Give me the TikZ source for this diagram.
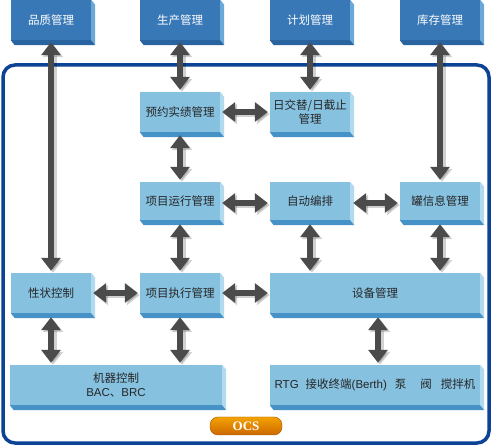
\documentclass[tikz,border=0pt]{standalone}
\usepackage{fontspec}
\setmainfont{Liberation Sans}
\newfontfamily\cjk{Noto Sans CJK SC}
\newfontfamily\ocsfont{Liberation Serif}
\usetikzlibrary{arrows.meta,calc}
\definecolor{topfront}{HTML}{3878B6}
\definecolor{topside}{HTML}{6AA8D8}
\definecolor{topbot}{HTML}{2A64A0}
\definecolor{midfront}{HTML}{86C1E0}
\definecolor{midside}{HTML}{B2DAEE}
\definecolor{midbot}{HTML}{4692C6}
\definecolor{framecol}{HTML}{0C4394}
\definecolor{arrgray}{HTML}{4B4B4B}
\definecolor{ocsorange}{HTML}{F07A00}
\newcommand\faces[2]{%
  \fill[#2side] (#1.north east) -- ++(4,5) -- ($(#1.south east)+(4,5)$) -- (#1.south east) -- cycle;
  \fill[#2bot] (#1.south west) -- (#1.south east) -- ++(4,5) -- ($(#1.south west)+(4,5)$) -- cycle;}
\newcommand\darrow[2]{%
  \draw[arrshadow] #1 -- #2;
  \draw[dar] #1 -- #2;}
\begin{document}
\begin{tikzpicture}[x=1pt,y=-1pt,
  box/.style={inner sep=0pt, minimum height=40pt, minimum width=80pt, align=center,
    font=\cjk\fontsize{11.5}{14}\selectfont},
  topbox/.style={box, fill=topfront, text=white},
  midbox/.style={box, fill=midfront, text=black!85},
  topside/.style={fill=topside}, topbot/.style={fill=topbot},
  midside/.style={fill=midside}, midbot/.style={fill=midbot},
  dar/.style={line width=6.5pt, draw=arrgray,
    {Triangle[width=19pt,length=13pt]}-{Triangle[width=19pt,length=13pt]}},
  arrshadow/.style={line width=7pt, draw=black, opacity=0.18,
    {Triangle[width=20pt,length=13pt]}-{Triangle[width=20pt,length=13pt]},
    transform canvas={shift={(2pt,-2pt)}}},
  frame/.style={draw=framecol, line width=3.5pt, rounded corners=12pt},
  ocs/.style={inner sep=0pt, minimum width=72pt, minimum height=18pt, rounded corners=8pt,
    top color=ocsorange!70!yellow, bottom color=ocsorange!85!black, draw=ocsorange!70!black,
    text=white, font=\ocsfont\bfseries\fontsize{13}{14}\selectfont}]
\useasboundingbox (0,0) rectangle (493,446);
\fill[white] (0,0) rectangle (493,446);

% OCS frame
\draw[frame] (3,65) rectangle (489,443);

% top boxes
\node[topbox] (qm) at (51,20) {品质管理};
\node[topbox] (sc) at (180,20) {生产管理};
\node[topbox] (jh) at (310,20) {计划管理};
\node[topbox] (kc) at (440,20) {库存管理};
\foreach \n in {qm,sc,jh,kc} {\faces{\n}{top}}

% middle boxes
\node[midbox] (yy) at (180,112) {预约实绩管理};
\node[midbox] (rj) at (310,112) {日交替/日截止\\管理};
\node[midbox, minimum height=38pt] (yx) at (180,201) {项目运行管理};
\node[midbox, minimum height=38pt] (zd) at (310,201) {自动编排};
\node[midbox, minimum height=38pt] (gx) at (440,201) {罐信息管理};
\node[midbox] (xz) at (51,293) {性状控制};
\node[midbox] (zx) at (180,293) {项目执行管理};
\node[midbox, minimum width=210pt] (sb) at (375,293) {设备管理};
\node[midbox, minimum width=212pt] (jq) at (116,385) {机器控制\\{\fontspec{Liberation Sans}BAC}、{\fontspec{Liberation Sans}BRC}};
\node[midbox, minimum width=210pt, font=\fontsize{11.5}{14}\selectfont] (rtg) at (375,385)
  {RTG\hspace{7pt}{\cjk 接收终端}(Berth)\hspace{8pt}{\cjk 泵}\hspace{14pt}{\cjk 阀}\hspace{9pt}{\cjk 搅拌机}};
\foreach \n in {yy,rj,yx,zd,gx,xz,zx,sb,jq,rtg} {\faces{\n}{mid}}

% vertical arrows
\darrow{($(qm.south)+(0,2)$)}{($(xz.north)+(0,-2)$)}
\darrow{($(sc.south)+(0,2)$)}{($(yy.north)+(0,-2)$)}
\darrow{($(jh.south)+(0,2)$)}{($(rj.north)+(0,-2)$)}
\darrow{($(kc.south)+(0,2)$)}{($(gx.north)+(0,-2)$)}
\darrow{($(yy.south)+(0,3)$)}{($(yx.north)+(0,-2)$)}
\darrow{($(yx.south)+(0,4)$)}{($(zx.north)+(0,-2)$)}
\darrow{($(zd.south)+(0,4)$)}{($(zd.south|-sb.north)+(0,-2)$)}
\darrow{($(gx.south)+(0,4)$)}{($(gx.south|-sb.north)+(0,-2)$)}
\darrow{($(xz.south)+(0,4)$)}{($(xz.south|-jq.north)+(0,-2)$)}
\darrow{($(zx.south)+(0,4)$)}{($(zx.south|-jq.north)+(0,-2)$)}
\darrow{($(sb.south)+(3,4)$)}{($(sb.south|-rtg.north)+(3,-2)$)}

% horizontal arrows
\darrow{($(yy.east)+(2,0)$)}{($(rj.west)+(-2,0)$)}
\darrow{($(yx.east)+(2,2)$)}{($(zd.west)+(-2,2)$)}
\darrow{($(zd.east)+(3,2)$)}{($(gx.west)+(-2,2)$)}
\darrow{($(xz.east)+(2,0)$)}{($(zx.west)+(-2,0)$)}
\darrow{($(zx.east)+(2,0)$)}{($(sb.west)+(-2,0)$)}

% OCS badge
\node[ocs] (ocslabel) at (246,426) {OCS};
\end{tikzpicture}
\end{document}
